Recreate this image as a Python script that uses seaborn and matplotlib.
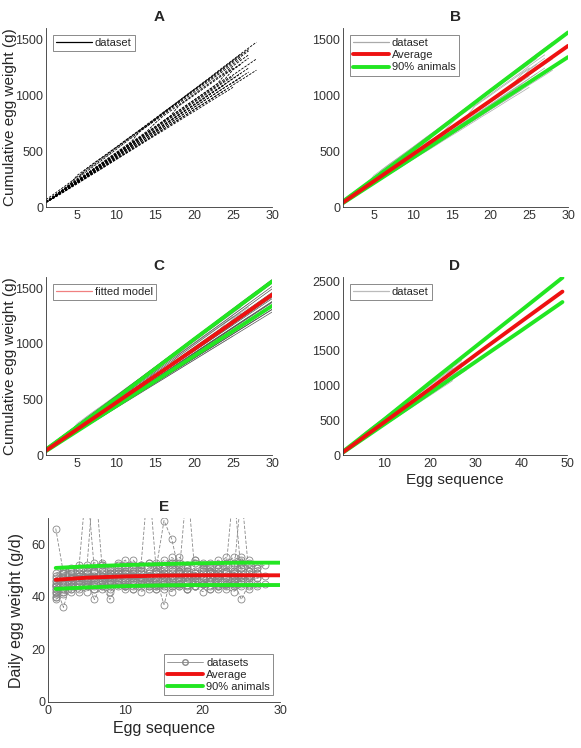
import numpy as np
import pandas as pd
import matplotlib
matplotlib.use("Agg")
import matplotlib.pyplot as plt
from matplotlib.lines import Line2D
import seaborn as sns

# daily egg weight (g) per hen, by egg sequence
hen01 = [66, 49, 50, 51, 52, 50, 53, 51, 52, 54, 51, 52, 53, 50, 52, 55, 53, 52, 54, 51, 53, 52, 55, 53, 52, 54, 51, 52]
hen02 = [48, 50, 49, 51, 85, 50, 52, 49, 51, 50, 52, 51, 50, 53, 51, 52, 50, 51, 53, 52, 50, 51, 52, 50, 53, 51, 52]
hen03 = [47, 49, 50, 48, 50, 88, 51, 50, 49, 51, 50, 52, 49, 50, 51, 53, 50, 51, 50, 52, 49, 51, 50, 52, 51, 50, 51]
hen04 = [46, 48, 47, 49, 50, 48, 50, 49, 51, 50, 49, 51, 86, 50, 49, 51, 52, 50, 49, 51, 50, 52, 50, 49, 51, 50]
hen05 = [45, 47, 48, 49, 47, 50, 49, 48, 50, 49, 48, 50, 49, 51, 69, 62, 49, 50, 48, 50, 51, 49, 50, 48, 55, 50, 49]
hen06 = [44, 46, 47, 48, 49, 47, 48, 49, 48, 50, 49, 47, 48, 50, 49, 48, 50, 84, 49, 48, 50, 49, 48, 50, 49]
hen07 = [45, 47, 46, 48, 47, 49, 48, 47, 49, 48, 50, 47, 48, 49, 48, 50, 47, 49, 48, 47, 49, 48, 50, 82, 48, 47, 49]
hen08 = [46, 45, 47, 48, 49, 47, 48, 46, 49, 48, 47, 49, 48, 47, 49, 48, 50, 48, 47, 49, 48, 47, 49, 48, 80, 48]
hen09 = [44, 46, 47, 46, 48, 47, 46, 48, 47, 49, 48, 47, 46, 48, 47, 49, 48, 46, 48, 47, 49, 48, 47, 48, 46, 48, 47, 48]
hen10 = [43, 45, 46, 47, 46, 48, 47, 46, 48, 47, 46, 48, 47, 46, 48, 47, 49, 46, 47, 48, 46, 47, 48, 47, 46]
hen11 = [44, 36, 46, 47, 45, 47, 48, 46, 47, 46, 48, 47, 46, 47, 37, 48, 47, 46, 48, 47, 46, 48, 47, 46, 48, 47]
hen12 = [43, 45, 44, 46, 47, 45, 46, 47, 46, 45, 47, 46, 47, 45, 46, 47, 46, 48, 46, 45, 47, 46, 47, 45, 47, 46, 47]
hen13 = [42, 44, 45, 46, 45, 46, 47, 45, 46, 45, 47, 46, 45, 46, 47, 45, 46, 47, 46, 45, 46, 47, 45, 46]
hen14 = [42, 43, 44, 45, 46, 39, 45, 46, 45, 44, 46, 45, 46, 44, 45, 46, 45, 44, 46, 45, 46, 44, 45, 46, 39, 45]
hen15 = [41, 43, 44, 45, 44, 45, 46, 44, 45, 44, 46, 45, 44, 45, 46, 44, 45, 46, 44, 45, 46, 45, 44, 45, 46, 44, 45]
hen16 = [40, 42, 43, 44, 45, 43, 44, 39, 45, 44, 43, 45, 44, 43, 45, 44, 45, 43, 44, 45, 44, 43, 45, 44, 45, 43, 44, 45]
hen17 = [40, 42, 43, 42, 44, 43, 44, 43, 45, 44, 43, 44, 45, 43, 44, 45, 44, 43, 44, 45, 43, 44, 45, 44]
hen18 = [39, 41, 42, 43, 42, 44, 43, 42, 44, 43, 44, 42, 43, 44, 43, 42, 44, 43, 44, 42, 43, 44, 43, 42, 44]
hen19 = [49, 50, 51, 52, 51, 53, 52, 51, 53, 52, 54, 51, 53, 52, 54, 53, 55, 52, 54, 53, 52, 54, 53, 55, 54, 53]
hens = [hen01, hen02, hen03, hen04, hen05, hen06, hen07, hen08, hen09, hen10,
        hen11, hen12, hen13, hen14, hen15, hen16, hen17, hen18, hen19]

# average / 90% band of daily egg weight
band_x = [1, 5, 10, 15, 20, 25, 30]
avg_daily = [46.5, 47.3, 47.8, 48.1, 48.2, 48.2, 48.2]
upper_daily = [51.0, 51.6, 52.1, 52.5, 52.8, 53.0, 53.0]
lower_daily = [43.0, 43.6, 44.1, 44.4, 44.5, 44.5, 44.5]

# cumulative fitted model lines
cum_x = [1, 10, 20, 30, 40, 49]
cum_avg = [40, 470, 950, 1440, 1920, 2350]
cum_upper = [50, 510, 1040, 1560, 2080, 2550]
cum_lower = [35, 440, 890, 1340, 1790, 2200]

rows = []
for i, w in enumerate(hens):
    cum = np.cumsum(w)
    for k in range(len(w)):
        rows.append({"hen": i, "egg": k + 1, "daily": w[k], "cum": cum[k]})
df = pd.DataFrame(rows)

# per-hen linear fit of cumulative weight, extended to egg 30
fit_rows = []
for i, w in enumerate(hens):
    xs = np.arange(1, len(w) + 1)
    b, a = np.polyfit(xs, np.cumsum(w), 1)
    for e in (1, 30):
        fit_rows.append({"hen": i, "egg": e, "cum": a + b * e})
fit_df = pd.DataFrame(fit_rows)

sns.set_style("white")
plt.rcParams["font.family"] = ["Liberation Sans", "DejaVu Sans"]

RED = "#ee1111"
GREEN = "#22e622"
AX = "#333333"

fig = plt.figure(figsize=(5.81, 7.48), dpi=100)
W, H = 581, 748


def make_ax(l, t, r, b):
    return fig.add_axes([l / W, 1 - b / H, (r - l) / W, (b - t) / H])


def style(ax, title):
    sns.despine(ax=ax)
    for s in ("left", "bottom"):
        ax.spines[s].set_color(AX)
        ax.spines[s].set_linewidth(0.6)
    ax.tick_params(direction="in", length=3, width=0.6, colors=AX, labelsize=9, pad=2)
    ax.set_title(title, fontsize=11, fontweight="bold", pad=5)
    ax.set_xlabel("")
    ax.set_ylabel("")


def legend(ax, handles, labels, loc, anchor=None):
    leg = ax.legend(handles, labels, loc=loc, bbox_to_anchor=anchor, fontsize=8,
                    frameon=True, fancybox=False, handlelength=3.2, handletextpad=0.3,
                    borderpad=0.3, labelspacing=0.2, borderaxespad=0.6)
    leg.get_frame().set_edgecolor("#555555")
    leg.get_frame().set_linewidth(0.6)


def cum_lines(ax, xmax):
    m = np.array(cum_x) <= xmax + 0.1
    xs = np.array(cum_x)[m]
    sns.lineplot(x=xs, y=np.array(cum_upper)[m], ax=ax, color=GREEN, lw=2.8)
    sns.lineplot(x=xs, y=np.array(cum_lower)[m], ax=ax, color=GREEN, lw=2.8)
    sns.lineplot(x=xs, y=np.array(cum_avg)[m], ax=ax, color=RED, lw=2.8)


# A
axA = make_ax(46, 28, 272, 207)
sns.lineplot(data=df, x="egg", y="cum", units="hen", estimator=None, ax=axA,
             color="black", lw=0.6, ls=(0, (3, 1.5)))
axA.set_xlim(1, 30)
axA.set_ylim(0, 1600)
axA.set_xticks([5, 10, 15, 20, 25, 30])
axA.set_yticks([0, 500, 1000, 1500])
style(axA, "A")
axA.set_ylabel("Cumulative egg weight (g)", fontsize=11)
axA.yaxis.set_label_coords(-0.128, 0.5)
legend(axA, [Line2D([], [], color="black", lw=0.9)], ["dataset"], "upper left")

# B
axB = make_ax(343, 28, 568, 207)
sns.lineplot(data=df, x="egg", y="cum", units="hen", estimator=None, ax=axB,
             color="#aaaaaa", lw=0.5)
cum_lines(axB, 30)
axB.set_xlim(1, 30)
axB.set_ylim(0, 1600)
axB.set_xticks([5, 10, 15, 20, 25, 30])
axB.set_yticks([0, 500, 1000, 1500])
style(axB, "B")
legend(axB, [Line2D([], [], color="#aaaaaa", lw=0.9), Line2D([], [], color=RED, lw=2.8),
             Line2D([], [], color=GREEN, lw=2.8)],
       ["dataset", "Average", "90% animals"], "upper left")

# C
axC = make_ax(46, 277, 272, 455)
sns.lineplot(data=df, x="egg", y="cum", units="hen", estimator=None, ax=axC,
             color="#aaaaaa", lw=0.5)
sns.lineplot(data=fit_df, x="egg", y="cum", units="hen", estimator=None, ax=axC,
             color="#555555", lw=0.5)
cum_lines(axC, 30)
axC.set_xlim(1, 30)
axC.set_ylim(0, 1600)
axC.set_xticks([5, 10, 15, 20, 25, 30])
axC.set_yticks([0, 500, 1000, 1500])
style(axC, "C")
axC.set_ylabel("Cumulative egg weight (g)", fontsize=11)
axC.yaxis.set_label_coords(-0.128, 0.5)
legend(axC, [Line2D([], [], color="#f08080", lw=0.9)], ["fitted model"], "upper left")

# D
axD = make_ax(343, 277, 567, 455)
sns.lineplot(data=df, x="egg", y="cum", units="hen", estimator=None, ax=axD,
             color="#aaaaaa", lw=0.5)
cum_lines(axD, 49)
axD.set_xlim(1, 50)
axD.set_ylim(0, 2560)
axD.set_xticks([10, 20, 30, 40, 50])
axD.set_yticks([0, 500, 1000, 1500, 2000, 2500])
style(axD, "D")
axD.set_xlabel("Egg sequence", fontsize=11, labelpad=2)
legend(axD, [Line2D([], [], color="#bbbbbb", lw=0.9)], ["dataset"], "upper left")

# E
axE = make_ax(48, 518, 280, 702)
sns.lineplot(data=df, x="egg", y="daily", units="hen", estimator=None, ax=axE,
             color="#888888", lw=0.6, ls=(0, (4, 2)), marker="o", markersize=5,
             markerfacecolor="none", markeredgecolor="#888888", markeredgewidth=0.6)
sns.lineplot(x=band_x, y=upper_daily, ax=axE, color=GREEN, lw=2.8)
sns.lineplot(x=band_x, y=lower_daily, ax=axE, color=GREEN, lw=2.8)
sns.lineplot(x=band_x, y=avg_daily, ax=axE, color=RED, lw=2.8)
axE.set_xlim(0, 30)
axE.set_ylim(0, 70)
axE.set_xticks([0, 10, 20, 30])
axE.set_yticks([0, 20, 40, 60])
style(axE, "E")
axE.set_xlabel("Egg sequence", fontsize=11.5, labelpad=3)
axE.set_ylabel("Daily egg weight (g/d)", fontsize=11.5)
axE.yaxis.set_label_coords(-0.105, 0.5)
legend(axE, [Line2D([], [], color="#888888", lw=0.6, marker="o", markersize=4,
                    markerfacecolor="none"),
             Line2D([], [], color=RED, lw=2.8), Line2D([], [], color=GREEN, lw=2.8)],
       ["datasets", "Average", "90% animals"], "lower right")

fig.savefig("out.png", dpi=100)
